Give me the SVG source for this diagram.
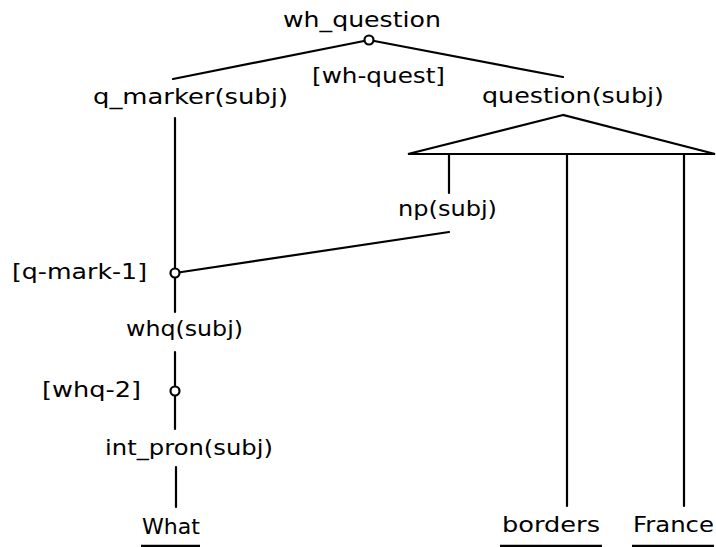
<svg xmlns="http://www.w3.org/2000/svg" width="716" height="547" viewBox="0 0 716 547">
  <style>
    .lbl { font-family: "DejaVu Sans", "Liberation Sans", sans-serif; font-size: 20.5px; fill: #000; }
    .edge { stroke: #000; stroke-width: 2.2; fill: none; stroke-linecap: round; }
    .joint { stroke: #000; stroke-width: 2.2; fill: #fff; }
    .ul { stroke: #000; stroke-width: 2.5; }
  </style>
  <rect width="716" height="547" fill="#fff"/>

  <g id="connectors">
    <!-- wh_question to its two daughters -->
    <line class="edge" x1="369" y1="40" x2="173" y2="79"/>
    <line class="edge" x1="369" y1="40" x2="563" y2="77"/>
    <!-- collapsed question(subj) subtree -->
    <polygon class="edge" points="563,115 408,154 715,154"/>
    <line class="edge" x1="449" y1="154" x2="449" y2="193"/>
    <line class="edge" x1="567" y1="154" x2="567" y2="506"/>
    <line class="edge" x1="684" y1="154" x2="684" y2="506"/>
    <!-- np(subj) to q-mark-1 -->
    <line class="edge" x1="449" y1="232" x2="175" y2="273"/>
    <!-- left spine -->
    <line class="edge" x1="175" y1="118" x2="175" y2="312"/>
    <line class="edge" x1="175" y1="352" x2="175" y2="429"/>
    <line class="edge" x1="176" y1="467" x2="176" y2="507"/>
    <!-- rule joints -->
    <circle class="joint" cx="369" cy="40" r="4.5"/>
    <circle class="joint" cx="175" cy="273" r="4.5"/>
    <circle class="joint" cx="175" cy="391" r="4.5"/>
  </g>

  <g id="wh_question">
    <text class="lbl" x="283" y="27" textLength="158" lengthAdjust="spacingAndGlyphs">wh_question</text>
    <text class="lbl" x="312" y="83" textLength="133" lengthAdjust="spacingAndGlyphs">[wh-quest]</text>
  </g>
  <g id="q_marker">
    <text class="lbl" x="93" y="104" textLength="195" lengthAdjust="spacingAndGlyphs">q_marker(subj)</text>
  </g>
  <g id="question">
    <text class="lbl" x="482" y="103" textLength="182" lengthAdjust="spacingAndGlyphs">question(subj)</text>
  </g>
  <g id="np">
    <text class="lbl" x="398" y="216" textLength="99" lengthAdjust="spacingAndGlyphs">np(subj)</text>
  </g>
  <g id="q_mark_1">
    <text class="lbl" x="12" y="279" textLength="135" lengthAdjust="spacingAndGlyphs">[q-mark-1]</text>
  </g>
  <g id="whq">
    <text class="lbl" x="126" y="336" textLength="117" lengthAdjust="spacingAndGlyphs">whq(subj)</text>
  </g>
  <g id="whq_2">
    <text class="lbl" x="42" y="397" textLength="99" lengthAdjust="spacingAndGlyphs">[whq-2]</text>
  </g>
  <g id="int_pron">
    <text class="lbl" x="105" y="455" textLength="168" lengthAdjust="spacingAndGlyphs">int_pron(subj)</text>
  </g>
  <g id="word_what">
    <text class="lbl" x="142" y="534" textLength="58" lengthAdjust="spacingAndGlyphs">What</text>
    <line class="ul" x1="141" y1="546" x2="200" y2="546"/>
  </g>
  <g id="word_borders">
    <text class="lbl" x="502" y="532" textLength="98" lengthAdjust="spacingAndGlyphs">borders</text>
    <line class="ul" x1="500" y1="546" x2="602" y2="546"/>
  </g>
  <g id="word_france">
    <text class="lbl" x="633" y="532" textLength="81" lengthAdjust="spacingAndGlyphs">France</text>
    <line class="ul" x1="632" y1="546" x2="714" y2="546"/>
  </g>
</svg>
